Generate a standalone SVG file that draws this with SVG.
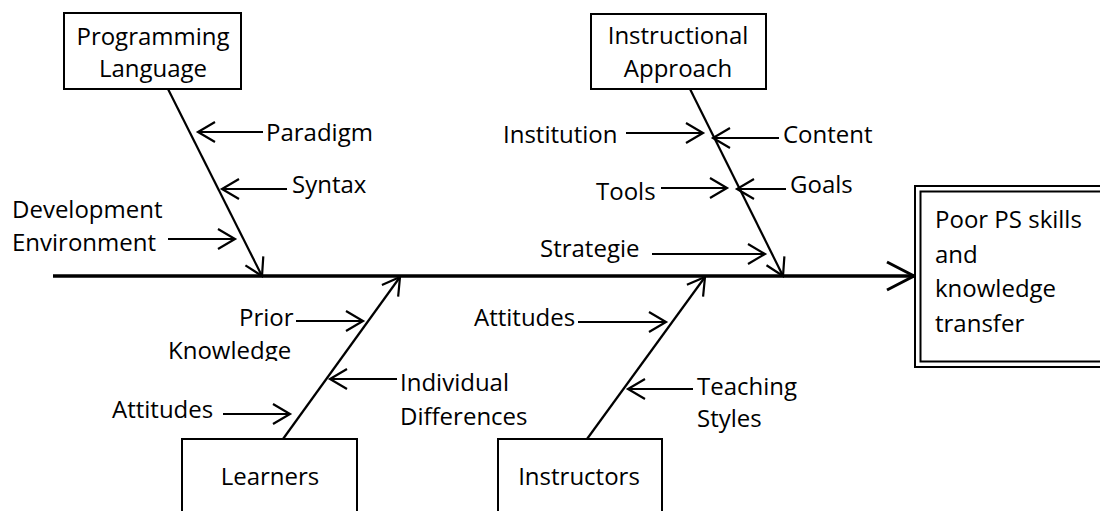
<svg xmlns="http://www.w3.org/2000/svg" width="1100" height="511" viewBox="0 0 1100 511">
<style>
text{font-family:"Open Sans","Liberation Sans",sans-serif;font-size:24px;fill:#000}
.c{text-anchor:middle}
.box{fill:#fff;stroke:#000;stroke-width:2}
.br{stroke:#000;stroke-width:2.2;fill:none;marker-end:url(#ah)}
.sm{stroke:#000;stroke-width:2;fill:none;marker-end:url(#ah)}
.spine{stroke:#000;stroke-width:3.3;fill:none;marker-end:url(#big)}
</style>
<defs>
<marker id="ah" markerUnits="userSpaceOnUse" viewBox="0 0 20 22" refX="18" refY="11" markerWidth="20" markerHeight="22" orient="auto" overflow="visible">
<path d="M1,1 L18,11 L1,21" fill="none" stroke="#000" stroke-width="2.2"/>
</marker>
<marker id="big" markerUnits="userSpaceOnUse" viewBox="0 0 30 32" refX="28" refY="16" markerWidth="30" markerHeight="32" orient="auto" overflow="visible">
<path d="M1,2 L28,16 L1,30" fill="none" stroke="#000" stroke-width="3"/>
</marker>
<clipPath id="kclip"><rect x="150" y="330" width="160" height="31"/></clipPath>
</defs>
<g id="connectors">
<line class="spine" x1="53" y1="276" x2="914" y2="276"/>
<line class="br" x1="168" y1="89" x2="262" y2="276"/>
<line class="br" x1="690" y1="89" x2="783" y2="276"/>
<line class="br" x1="283" y1="439" x2="400" y2="277"/>
<line class="br" x1="587" y1="439" x2="705" y2="277"/>
<line class="sm" x1="263" y1="132" x2="198" y2="132"/>
<line class="sm" x1="287" y1="189" x2="222" y2="189"/>
<line class="sm" x1="168" y1="239" x2="235" y2="239"/>
<line class="sm" x1="626" y1="133" x2="703" y2="133"/>
<line class="sm" x1="779" y1="138" x2="713" y2="138"/>
<line class="sm" x1="661" y1="188" x2="727" y2="188"/>
<line class="sm" x1="786" y1="189" x2="737" y2="189"/>
<line class="sm" x1="652" y1="254" x2="765" y2="254"/>
<line class="sm" x1="296" y1="321" x2="363" y2="321"/>
<line class="sm" x1="223" y1="414" x2="290" y2="414"/>
<line class="sm" x1="397" y1="379" x2="330" y2="379"/>
<line class="sm" x1="578" y1="322" x2="666" y2="322"/>
<line class="sm" x1="693" y1="389" x2="628" y2="389"/>
</g>
<g id="programming-language">
<rect class="box" x="64" y="13" width="177" height="76"/>
<text class="c" x="153" y="45">Programming</text>
<text class="c" x="153" y="77">Language</text>
</g>
<g id="instructional-approach">
<rect class="box" x="591" y="14" width="175" height="75"/>
<text class="c" x="678" y="44">Instructional</text>
<text class="c" x="678" y="77">Approach</text>
</g>
<g id="learners">
<rect class="box" x="182" y="439" width="175" height="80"/>
<text class="c" x="270" y="485">Learners</text>
</g>
<g id="instructors">
<rect class="box" x="498" y="439" width="164" height="80"/>
<text class="c" x="579" y="485">Instructors</text>
</g>
<g id="result">
<rect x="915" y="186" width="190" height="181" fill="#fff" stroke="#000" stroke-width="2"/>
<rect x="920.5" y="191.5" width="190" height="170" fill="none" stroke="#000" stroke-width="2"/>
<text x="935" y="228">Poor PS skills</text>
<text x="935" y="262.5">and</text>
<text x="935" y="297">knowledge</text>
<text x="935" y="331.5">transfer</text>
</g>
<g id="labels">
<text x="266" y="141">Paradigm</text>
<text x="292" y="193">Syntax</text>
<text x="12" y="218">Development</text>
<text x="12" y="251">Environment</text>
<text x="503" y="143">Institution</text>
<text x="783" y="143">Content</text>
<text x="596" y="200">Tools</text>
<text x="790" y="193">Goals</text>
<text x="540" y="257">Strategie</text>
<text x="239" y="326">Prior</text>
<text x="168" y="359" clip-path="url(#kclip)">Knowledge</text>
<text x="112" y="418">Attitudes</text>
<text x="400" y="391">Individual</text>
<text x="400" y="425">Differences</text>
<text x="474" y="326">Attitudes</text>
<text x="697" y="395">Teaching</text>
<text x="697" y="427">Styles</text>
</g>
</svg>
